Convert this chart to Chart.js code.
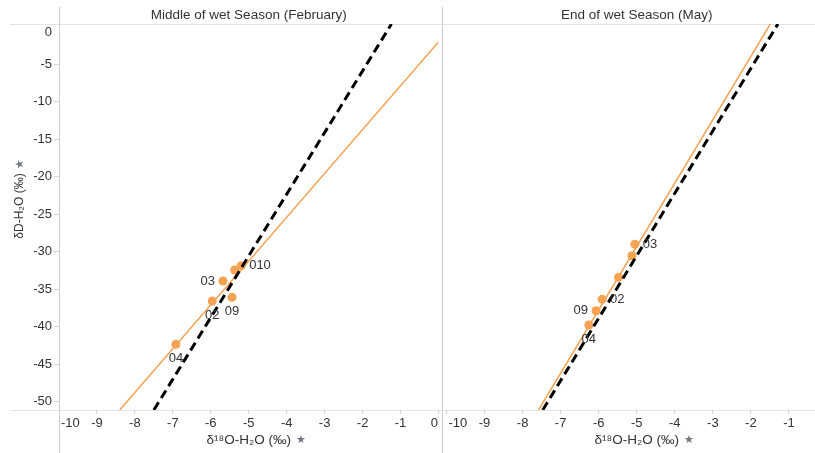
<!DOCTYPE html>
<html>
<head>
<meta charset="utf-8">
<script src="https://cdn.jsdelivr.net/npm/chart.js@4.4.0/dist/chart.umd.min.js"></script>
<style>
  body { margin: 0; width: 815px; height: 453px; overflow: hidden; background: #fff; position: relative; }
  #left { position: absolute; left: 0; top: 0; }
  #right { position: absolute; left: 442px; top: 0; }
</style>
</head>
<body>
<canvas id="left" width="443" height="453"></canvas>
<canvas id="right" width="390" height="453"></canvas>
<script>
// axis ticks
const xTicks = [-10, -9, -8, -7, -6, -5, -4, -3, -2, -1, 0];
const yTicks = [0, -5, -10, -15, -20, -25, -30, -35, -40, -45, -50];
const yMin = -51.1, yMax = 0.36;

// February (middle of wet season)
const febX = [-6.92, -5.96, -5.68, -5.44, -5.37, -5.20];
const febY = [-42.35, -36.57, -33.90, -36.08, -32.44, -31.87];
const febLabels = ['04', '02', '03', '09', '', '010'];
const febFitX = [-8.40, 0];
const febFitY = [-51.1, -2.04];
const febRefX = [-7.50, -1.24];
const febRefY = [-51.1, 0.36];

// May (end of wet season)
const mayX = [-5.05, -5.125, -5.48, -5.91, -6.07, -6.26];
const mayY = [-29.0, -30.53, -33.41, -36.35, -37.87, -39.77];
const mayLabels = ['03', '', '', '02', '09', '04'];
const mayFitX = [-7.58, -1.49];
const mayFitY = [-51.1, 0.36];
const mayRefX = [-7.47, -1.29];
const mayRefY = [-51.1, 0.36];

// where each point label sits (not data)
const febLabelSide = ['below', 'below', 'left', 'below', 'none', 'right'];
const mayLabelSide = ['right', 'none', 'none', 'right', 'left', 'below'];

const ORANGE = '#F5A352';
const FONT = '"Liberation Sans", Arial, sans-serif';
const TEXT = '#333';

function zip(xs, ys) {
  return xs.map((x, i) => ({x: x, y: ys[i]}));
}

function drawPin(ctx, x, y) {
  ctx.save();
  ctx.fillStyle = '#707780';
  ctx.font = '11px "DejaVu Sans", sans-serif';
  ctx.textAlign = 'left';
  ctx.textBaseline = 'middle';
  ctx.fillText('★', x, y);
  ctx.restore();
}

const panelDecor = {
  id: 'panelDecor',
  beforeDraw(chart, args, o) {
    const ctx = chart.ctx;
    ctx.save();
    ctx.lineWidth = 1;
    ctx.strokeStyle = '#e2e2e2';
    ctx.beginPath();
    ctx.moveTo(o.hFrom, 24.5); ctx.lineTo(chart.width, 24.5);
    ctx.moveTo(o.hFrom, 410.5); ctx.lineTo(chart.width, 410.5);
    ctx.stroke();
    ctx.strokeStyle = '#cdcdcd';
    ctx.beginPath();
    o.vLines.forEach(x => { ctx.moveTo(x, 7); ctx.lineTo(x, 453); });
    ctx.stroke();
    ctx.restore();
  },
  afterDatasetsDraw(chart, args, o) {
    const ctx = chart.ctx;
    const meta = chart.getDatasetMeta(1);
    ctx.save();
    ctx.font = '13px ' + FONT;
    ctx.fillStyle = TEXT;
    ctx.textBaseline = 'middle';
    meta.data.forEach((pt, i) => {
      const txt = o.labels[i], side = o.sides[i];
      if (!txt || side === 'none') return;
      if (side === 'below') { ctx.textAlign = 'center'; ctx.fillText(txt, pt.x, pt.y + 14); }
      if (side === 'left') { ctx.textAlign = 'right'; ctx.fillText(txt, pt.x - 8, pt.y); }
      if (side === 'right') { ctx.textAlign = 'left'; ctx.fillText(txt, pt.x + 8, pt.y); }
    });
    ctx.restore();
  },
  afterDraw(chart, args, o) {
    const ctx = chart.ctx, a = chart.chartArea;
    const xs = chart.scales.x, ys = chart.scales.y;
    ctx.save();
    ctx.fillStyle = TEXT;
    ctx.textBaseline = 'middle';

    // panel title
    ctx.font = '13.5px ' + FONT;
    ctx.textAlign = 'center';
    ctx.fillText(o.title, (a.left + a.right) / 2, 15);

    // x tick labels, kept inside the panel
    ctx.font = '13px ' + FONT;
    ctx.textAlign = 'left';
    xs.ticks.forEach(t => {
      const txt = String(t.value);
      const w = ctx.measureText(txt).width;
      let px = xs.getPixelForValue(t.value) - w / 2;
      px = Math.max(a.left + 2, Math.min(px, a.right - 0.5 - w));
      ctx.fillText(txt, px, a.bottom + 13);
    });

    // x axis title + pin
    ctx.font = '13.5px ' + FONT;
    const xt = 'δ¹⁸O-H₂O (‰)';
    const xw = ctx.measureText(xt).width;
    const cx = (a.left + a.right) / 2;
    ctx.textAlign = 'center';
    ctx.fillText(xt, cx, 440);
    drawPin(ctx, cx + xw / 2 + 5, 440);

    if (o.yAxis) {
      ctx.textAlign = 'right';
      ctx.font = '13px ' + FONT;
      ys.ticks.forEach(t => {
        let py = ys.getPixelForValue(t.value);
        py = Math.max(a.top + 8, Math.min(py, a.bottom - 7));
        ctx.fillText(String(t.value), a.left - 7, py);
      });
      // y axis title, rotated
      ctx.save();
      ctx.translate(20, 206);
      ctx.rotate(-Math.PI / 2);
      ctx.font = '12px ' + FONT;
      ctx.textAlign = 'center';
      const yt = 'δD-H₂O (‰)';
      const yw = ctx.measureText(yt).width;
      ctx.fillText(yt, 0, 0);
      drawPin(ctx, yw / 2 + 4, 0);
      ctx.restore();
    }
    ctx.restore();
  }
};

function makePanel(id, p) {
  return new Chart(document.getElementById(id), {
    type: 'scatter',
    data: {
      datasets: [
        { data: zip(p.refX, p.refY), showLine: true, borderColor: '#000', borderWidth: 3,
          borderDash: [9, 5], pointRadius: 0, pointHoverRadius: 0 },
        { data: zip(p.x, p.y), backgroundColor: ORANGE, borderWidth: 0,
          pointRadius: 4.5, pointHoverRadius: 4.5 },
        { data: zip(p.fitX, p.fitY), showLine: true, borderColor: ORANGE, borderWidth: 1.5,
          pointRadius: 0, pointHoverRadius: 0 }
      ]
    },
    options: {
      responsive: false,
      animation: false,
      events: [],
      layout: { padding: p.pad },
      plugins: {
        legend: { display: false },
        tooltip: { enabled: false },
        panelDecor: { title: p.title, labels: p.labels, sides: p.sides, yAxis: p.yAxis,
                      hFrom: p.hFrom, vLines: p.vLines }
      },
      scales: {
        x: {
          type: 'linear', min: -10, max: 0,
          afterBuildTicks: s => { s.ticks = xTicks.map(v => ({value: v})); },
          afterFit: s => { s.height = 43; },
          ticks: { display: false },
          grid: { drawOnChartArea: false, tickLength: 4, color: '#d0d0d0' },
          border: { display: false }
        },
        y: {
          type: 'linear', min: yMin, max: yMax, display: p.yAxis,
          afterBuildTicks: s => { s.ticks = yTicks.map(v => ({value: v})); },
          afterFit: s => { s.width = p.yAxis ? 59 : 0; },
          ticks: { display: false },
          grid: { drawOnChartArea: false, tickLength: 5,
                  color: c => (c.tick && c.tick.value === 0) ? 'rgba(0,0,0,0)' : '#d6d6d6' },
          border: { display: false }
        }
      }
    },
    plugins: [panelDecor]
  });
}

makePanel('left', {
  title: 'Middle of wet Season (February)',
  x: febX, y: febY, labels: febLabels, sides: febLabelSide,
  fitX: febFitX, fitY: febFitY, refX: febRefX, refY: febRefY,
  yAxis: true, pad: { top: 24, right: 1.5, left: 0, bottom: 0 },
  hFrom: 10, vLines: [59.5, 442.5]
});

makePanel('right', {
  title: 'End of wet Season (May)',
  x: mayX, y: mayY, labels: mayLabels, sides: mayLabelSide,
  fitX: mayFitX, fitY: mayFitY, refX: mayRefX, refY: mayRefY,
  yAxis: false, pad: { top: 24, right: 5, left: 0.7, bottom: 0 },
  hFrom: 0, vLines: []
});
</script>
</body>
</html>
